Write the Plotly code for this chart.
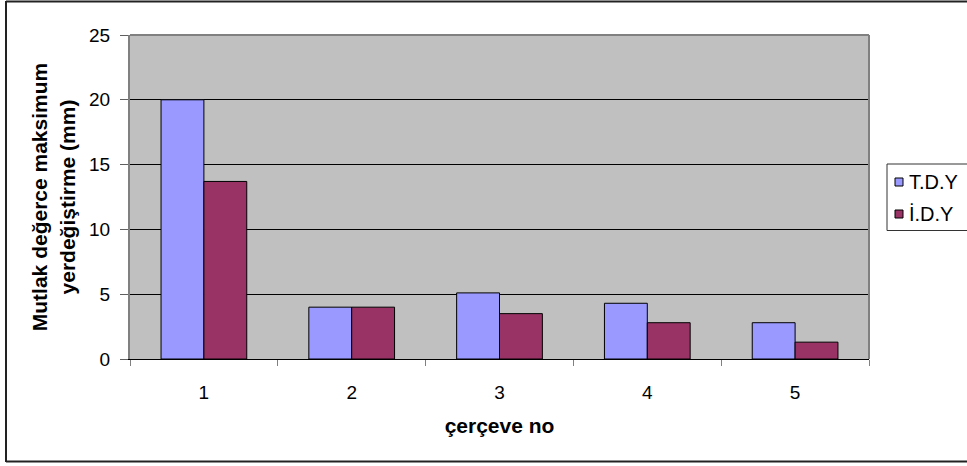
import plotly.graph_objects as go

# Frame numbers and absolute maximum displacement (mm) per method
frames = ["1", "2", "3", "4", "5"]
tdy_values = [20.0, 4.0, 5.1, 4.3, 2.8]
idy_values = [13.7, 4.0, 3.5, 2.8, 1.3]
series_names = ["T.D.Y", "İ.D.Y"]
series_colors = ["#9999FF", "#993366"]
y_ticks = [0, 5, 10, 15, 20, 25]

FONT = "Liberation Sans, Arial, sans-serif"
W, H = 967, 466
L, R, T, B = 130, 98, 35, 107
PW, PH = W - L - R, H - T - B


def px_x(x):
    """Pixel column -> paper x."""
    return (x - L) / PW


def px_y(y):
    """Pixel row -> paper y."""
    return (H - B - y) / PH


fig = go.Figure()
for name, vals, col in zip(series_names, [tdy_values, idy_values], series_colors):
    fig.add_trace(go.Bar(
        x=frames, y=vals, name=name, showlegend=False,
        marker=dict(color=col, line=dict(color="black", width=1)),
    ))

shapes = [
    # plot-area border (top and right)
    dict(type="line", xref="paper", yref="paper", x0=0, x1=1, y0=1, y1=1,
         line=dict(color="#808080", width=2)),
    dict(type="line", xref="paper", yref="paper", x0=1, x1=1, y0=0, y1=1,
         line=dict(color="#808080", width=2)),
    # outer chart frame (left, top, bottom)
    dict(type="line", xref="paper", yref="paper", x0=px_x(6), x1=px_x(6),
         y0=px_y(1), y1=px_y(462), line=dict(color="#222222", width=2)),
    dict(type="line", xref="paper", yref="paper", x0=px_x(6), x1=px_x(968),
         y0=px_y(1.5), y1=px_y(1.5), line=dict(color="#222222", width=2)),
    dict(type="line", xref="paper", yref="paper", x0=px_x(6), x1=px_x(968),
         y0=px_y(461.5), y1=px_y(461.5), line=dict(color="#222222", width=2)),
    # legend box
    dict(type="rect", xref="paper", yref="paper", x0=px_x(887), x1=px_x(990),
         y0=px_y(230.5), y1=px_y(164), fillcolor="white",
         line=dict(color="#333333", width=1)),
]

annotations = []
legend_rows = [182, 214]
for name, col, yc in zip(series_names, series_colors, legend_rows):
    shapes.append(dict(
        type="rect", xref="paper", yref="paper",
        x0=px_x(895), x1=px_x(903), y0=px_y(yc + 4), y1=px_y(yc - 4),
        fillcolor=col, line=dict(color="black", width=1),
    ))
    annotations.append(dict(
        text=name, xref="paper", yref="paper", x=px_x(907), y=px_y(yc),
        xanchor="left", yanchor="middle", showarrow=False,
        font=dict(family=FONT, size=20, color="black"),
    ))

fig.update_layout(
    width=W, height=H,
    margin=dict(l=L, r=R, t=T, b=B, pad=0),
    paper_bgcolor="white",
    plot_bgcolor="#C0C0C0",
    font=dict(family=FONT, size=19, color="black"),
    barmode="group",
    bargap=0.42,
    bargroupgap=0,
    shapes=shapes,
    annotations=annotations,
    showlegend=False,
    xaxis=dict(
        type="category",
        showline=True, linecolor="black", linewidth=1,
        ticks="outside", ticklen=6, tickcolor="#808080", tickwidth=1,
        tickson="boundaries",
        showgrid=False, zeroline=False,
        ticklabelstandoff=16,
        tickfont=dict(family=FONT, size=19),
        title=dict(text="<b>çerçeve no</b>", standoff=16,
                   font=dict(family=FONT, size=21)),
    ),
    yaxis=dict(
        range=[0, 25],
        tickvals=y_ticks,
        showline=True, linecolor="#808080", linewidth=2,
        ticks="outside", ticklen=8, tickcolor="#606060", tickwidth=1,
        showgrid=True, gridcolor="black", gridwidth=1,
        zeroline=False,
        ticklabelstandoff=6,
        tickfont=dict(family=FONT, size=19),
        title=dict(text="<b>Mutlak değerce maksimum<br>yerdeğiştirme (mm)</b>",
                   standoff=8, font=dict(family=FONT, size=21)),
    ),
)

fig.write_html("out.html")
